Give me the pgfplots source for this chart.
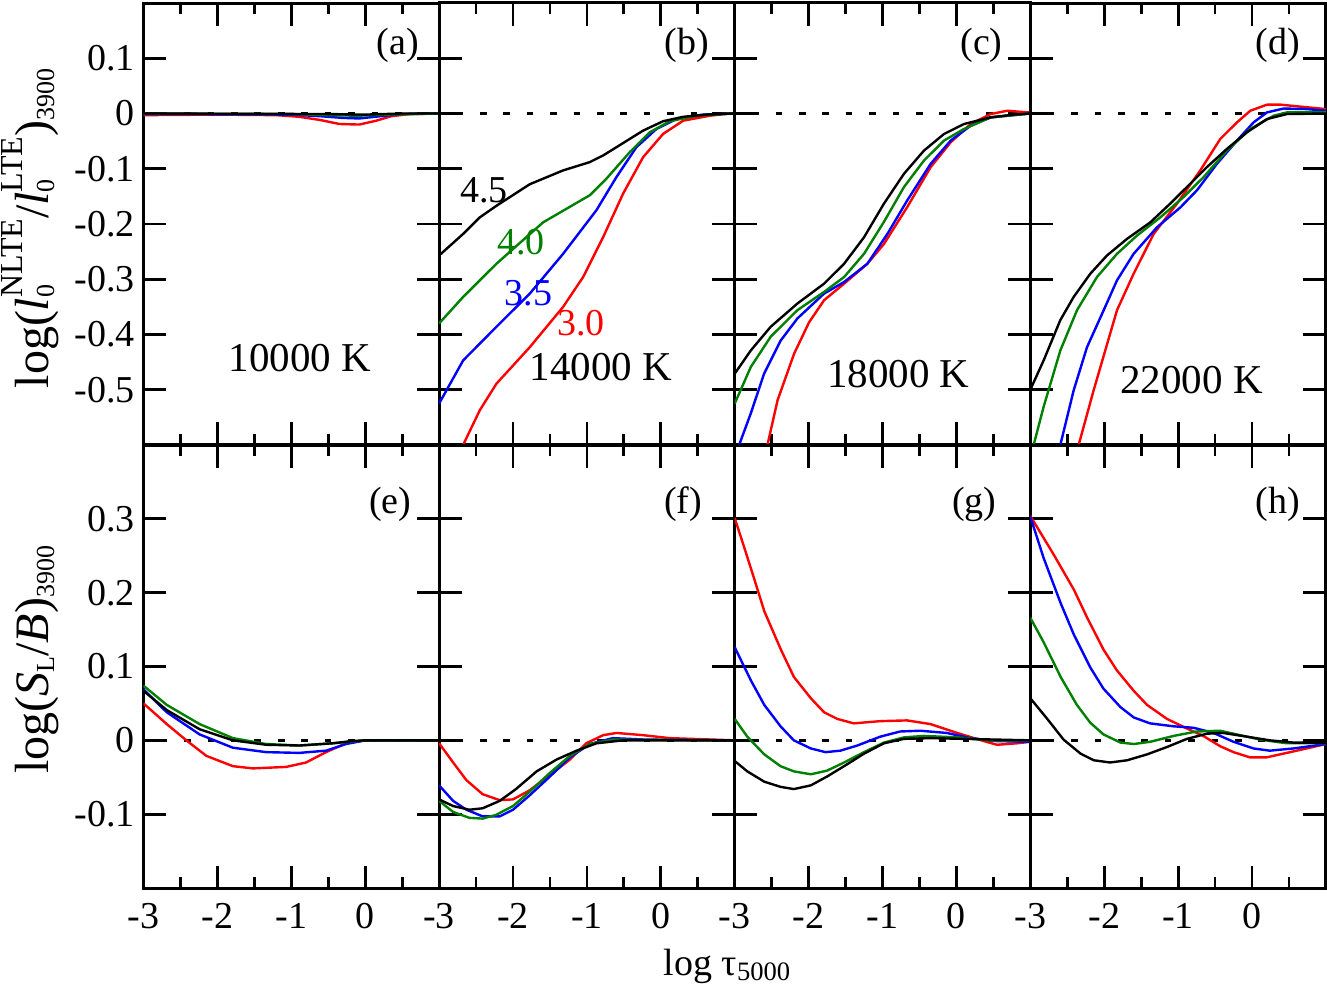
\documentclass[border=0pt]{standalone}
\usepackage{fontspec}
\setmainfont{Liberation Serif}
\usepackage{pgfplots}
\pgfplotsset{compat=1.18}

\definecolor{grn}{RGB}{0,128,0}
\newcommand\fs{\fontsize{19}{22}\selectfont}
\newcommand\fk{\fontsize{20.5}{24}\selectfont}
\newcommand\fl{\fontsize{24}{28}\selectfont}
\newcommand\sub[1]{\raisebox{-3pt}{\fontsize{13}{13}\selectfont #1}}
\newcommand\supsub[2]{\makebox[0pt][l]{\sub{#2}}\raisebox{13pt}{\fontsize{16}{16}\selectfont #1}}

\pgfplotsset{
  panel/.style={
    scale only axis, width=147.8pt, xmin=-3, xmax=1,
    anchor=south west,
    axis line style={line width=1.5pt},
    tick style={line width=1.4pt, black},
    tick align=inside, xtick pos=both, ytick pos=both,
    major tick length=11.25pt, minor tick length=5.5pt,
    xtick={-3,-2,-1,0}, minor xtick={-2.5,-1.5,-0.5,0.5},
    xticklabels={}, yticklabels={},
    ticklabel style={font=\fs, inner sep=0pt},
    yticklabel style={xshift=-4.25pt},
    xticklabel style={yshift=-7.5pt},
    every axis plot/.append style={line width=1.2pt, line join=round},
    ylabel style={font=\fl, at={(rel axis cs:-0.323,0.5)}, anchor=base},
  },
  toprow/.style={panel, height=221pt, ymin=-0.6, ymax=0.2,
    ytick={-0.5,-0.4,-0.3,-0.2,-0.1,0,0.1}},
  botrow/.style={panel, height=221.5pt, ymin=-0.2, ymax=0.4,
    ytick={-0.1,0,0.1,0.2,0.3}, xticklabels={-3,-2,-1,0}},
}
\newcommand\zeroline{\addplot[black, line width=1.3pt, dash pattern=on 3.3pt off 8.4pt, dash phase=3pt, forget plot] coordinates {(-3,0) (1,0)};}
\newcommand\plab[3]{\node[anchor=east, font=\fs] at (rel axis cs:#1,#2) {#3};}

\begin{document}
\begin{tikzpicture}
\path[use as bounding box] (-71.75pt,-49pt) rectangle (591.75pt,444pt);

% ---------------- top row ----------------
\begin{axis}[toprow, at={(0pt,221.5pt)},
  yticklabels={-0.5,-0.4,-0.3,-0.2,-0.1,0,0.1},
  ylabel={log(\textit{l}\supsub{NLTE}{0}/\textit{l}\supsub{LTE}{0})\sub{3900}},
  ylabel style={at={(rel axis cs:-0.323,0.49)}}]
\zeroline
\addplot[red] coordinates {(-3,-0.003)(-2,-0.002)(-1.2,-0.003)(-0.89,-0.006)(-0.6,-0.012)(-0.35,-0.019)(-0.08,-0.02)(0.15,-0.013)(0.35,-0.005)(0.6,-0.001)(1,0)};
\addplot[blue] coordinates {(-3,-0.001)(-1,-0.002)(-0.6,-0.005)(-0.3,-0.008)(-0.08,-0.009)(0.2,-0.005)(0.5,-0.001)(1,0)};
\addplot[grn] coordinates {(-3,0)(-1,-0.001)(-0.5,-0.003)(-0.1,-0.004)(0.3,-0.002)(1,0)};
\addplot[black] coordinates {(-3,0)(-0.5,-0.001)(0,-0.002)(0.5,0)(1,0)};
\plab{0.955}{0.905}{(a)}
\node[font=\fk] at (axis cs:-0.885,-0.443) {10000 K};
\end{axis}

\begin{axis}[toprow, at={(147.8pt,221.5pt)}]
\zeroline
\addplot[red] coordinates {(-2.8,-0.64)(-2.675,-0.60)(-2.449,-0.537)(-2.224,-0.489)(-1.773,-0.423)(-1.322,-0.350)(-1.051,-0.296)(-0.781,-0.224)(-0.51,-0.145)(-0.239,-0.079)(0.031,-0.037)(0.302,-0.013)(0.663,-0.004)(0.933,0)(1,0)};
\addplot[blue] coordinates {(-3,-0.525)(-2.675,-0.447)(-2.224,-0.386)(-1.773,-0.326)(-1.322,-0.254)(-0.871,-0.175)(-0.60,-0.115)(-0.33,-0.061)(-0.059,-0.028)(0.211,-0.010)(0.572,-0.002)(0.933,0)(1,0)};
\addplot[grn] coordinates {(-3,-0.38)(-2.675,-0.332)(-2.224,-0.272)(-1.998,-0.245)(-1.592,-0.197)(-1.232,-0.169)(-0.961,-0.148)(-0.736,-0.118)(-0.42,-0.070)(-0.149,-0.034)(0.121,-0.014)(0.482,-0.004)(0.933,0)(1,0)};
\addplot[black] coordinates {(-3,-0.257)(-2.675,-0.218)(-2.449,-0.188)(-2.224,-0.167)(-1.773,-0.128)(-1.322,-0.103)(-0.961,-0.088)(-0.781,-0.076)(-0.60,-0.061)(-0.42,-0.046)(-0.239,-0.031)(0.031,-0.014)(0.302,-0.006)(0.618,-0.002)(1,0)};
\plab{0.937}{0.905}{(b)}
\node[font=\fs, black] at (axis cs:-2.39,-0.139) {4.5};
\node[font=\fs, grn] at (axis cs:-1.89,-0.233) {4.0};
\node[font=\fs, blue] at (axis cs:-1.79,-0.325) {3.5};
\node[font=\fs, red] at (axis cs:-1.08,-0.380) {3.0};
\node[font=\fk] at (axis cs:-0.81,-0.459) {14000 K};
\end{axis}

\begin{axis}[toprow, at={(295.6pt,221.5pt)}]
\zeroline
\addplot[red] coordinates {(-2.6,-0.62)(-2.557,-0.6)(-2.42,-0.519)(-2.197,-0.435)(-1.994,-0.378)(-1.791,-0.338)(-1.52,-0.308)(-1.205,-0.272)(-0.98,-0.236)(-0.664,-0.169)(-0.348,-0.097)(-0.077,-0.052)(0.193,-0.019)(0.464,-0.001)(0.69,0.005)(0.96,0.002)(1,0.002)};
\addplot[blue] coordinates {(-3.0,-0.63)(-2.94,-0.6)(-2.783,-0.543)(-2.603,-0.471)(-2.378,-0.411)(-2.152,-0.371)(-1.791,-0.326)(-1.52,-0.305)(-1.205,-0.272)(-0.934,-0.218)(-0.664,-0.157)(-0.348,-0.091)(-0.077,-0.049)(0.193,-0.022)(0.464,-0.007)(1,0)};
\addplot[grn] coordinates {(-3,-0.525)(-2.783,-0.459)(-2.513,-0.404)(-2.152,-0.356)(-1.791,-0.323)(-1.52,-0.296)(-1.25,-0.254)(-0.98,-0.196)(-0.709,-0.133)(-0.438,-0.085)(-0.167,-0.049)(0.103,-0.028)(0.464,-0.007)(1,0)};
\addplot[black] coordinates {(-3,-0.471)(-2.783,-0.429)(-2.513,-0.386)(-2.152,-0.344)(-1.791,-0.308)(-1.52,-0.272)(-1.25,-0.224)(-0.98,-0.163)(-0.709,-0.109)(-0.438,-0.067)(-0.167,-0.037)(0.103,-0.019)(0.464,-0.007)(0.78,-0.002)(1,0)};
\plab{0.93}{0.905}{(c)}
\node[font=\fk] at (axis cs:-0.787,-0.471) {18000 K};
\end{axis}

\begin{axis}[toprow, at={(443.4pt,221.5pt)}]
\zeroline
\addplot[red] coordinates {(-2.4,-0.64)(-2.346,-0.6)(-2.143,-0.501)(-1.827,-0.356)(-1.602,-0.290)(-1.331,-0.218)(-1.015,-0.163)(-0.7,-0.103)(-0.429,-0.046)(-0.203,-0.016)(-0.023,0.005)(0.203,0.016)(0.383,0.016)(1,0.008)};
\addplot[blue] coordinates {(-2.7,-0.66)(-2.594,-0.6)(-2.413,-0.501)(-2.233,-0.423)(-2.007,-0.356)(-1.827,-0.302)(-1.602,-0.254)(-1.286,-0.206)(-0.97,-0.170)(-0.745,-0.139)(-0.474,-0.091)(-0.203,-0.049)(0.022,-0.016)(0.203,0.002)(0.428,0.009)(0.744,0.008)(1,0.005)};
\addplot[grn] coordinates {(-3,-0.64)(-2.955,-0.6)(-2.82,-0.531)(-2.594,-0.429)(-2.368,-0.356)(-2.098,-0.296)(-1.827,-0.254)(-1.557,-0.221)(-1.241,-0.188)(-0.925,-0.151)(-0.654,-0.115)(-0.339,-0.067)(-0.023,-0.028)(0.293,-0.004)(0.473,0.002)(1,0.002)};
\addplot[black] coordinates {(-3,-0.5)(-2.82,-0.447)(-2.594,-0.374)(-2.413,-0.332)(-2.188,-0.290)(-1.963,-0.257)(-1.692,-0.227)(-1.376,-0.197)(-1.106,-0.163)(-0.88,-0.133)(-0.61,-0.097)(-0.339,-0.064)(-0.068,-0.034)(0.203,-0.010)(0.473,-0.001)(1,0)};
\plab{0.936}{0.905}{(d)}
\node[font=\fk] at (axis cs:-0.817,-0.483) {22000 K};
\end{axis}

% ---------------- bottom row ----------------
\begin{axis}[botrow, at={(0pt,0pt)},
  yticklabels={-0.1,0,0.1,0.2,0.3},
  ylabel={log(\textit{S}\sub{L}/\textit{B})\sub{3900}},
  ylabel style={at={(rel axis cs:-0.323,0.515)}}]
\zeroline
\addplot[red] coordinates {(-3,0.050)(-2.685,0.022)(-2.42,0.0)(-2.15,-0.021)(-1.79,-0.035)(-1.52,-0.038)(-1.07,-0.036)(-0.80,-0.030)(-0.53,-0.016)(-0.26,-0.004)(0,0)(1,0)};
\addplot[blue] coordinates {(-3,0.069)(-2.685,0.038)(-2.24,0.008)(-1.79,-0.010)(-1.34,-0.016)(-0.89,-0.017)(-0.53,-0.014)(-0.26,-0.005)(0,0)(1,0)};
\addplot[grn] coordinates {(-3,0.074)(-2.685,0.048)(-2.24,0.022)(-1.79,0.003)(-1.34,-0.005)(-0.89,-0.007)(-0.44,-0.004)(0,0)(1,0)};
\addplot[black] coordinates {(-3,0.067)(-2.685,0.041)(-2.24,0.015)(-1.79,0.0)(-1.34,-0.006)(-0.89,-0.007)(-0.44,-0.004)(-0.18,-0.001)(0,0)(1,0)};
\plab{0.93}{0.867}{(e)}
\end{axis}

\begin{axis}[botrow, at={(147.8pt,0pt)}]
\zeroline
\addplot[red] coordinates {(-3,-0.004)(-2.81,-0.030)(-2.63,-0.054)(-2.41,-0.073)(-2.18,-0.081)(-2.0,-0.080)(-1.78,-0.068)(-1.5,-0.047)(-1.23,-0.026)(-1.01,-0.004)(-0.78,0.007)(-0.60,0.010)(-0.24,0.007)(0.12,0.003)(1,0)};
\addplot[blue] coordinates {(-3,-0.061)(-2.81,-0.082)(-2.63,-0.094)(-2.41,-0.103)(-2.18,-0.103)(-2.0,-0.094)(-1.78,-0.075)(-1.5,-0.049)(-1.23,-0.023)(-0.96,-0.005)(-0.65,0.003)(-0.2,0.001)(1,0)};
\addplot[grn] coordinates {(-3,-0.082)(-2.81,-0.097)(-2.59,-0.105)(-2.41,-0.106)(-2.23,-0.101)(-2.0,-0.089)(-1.78,-0.070)(-1.5,-0.044)(-1.23,-0.021)(-0.96,-0.005)(-0.65,0.001)(1,0)};
\addplot[black] coordinates {(-3,-0.080)(-2.81,-0.089)(-2.59,-0.094)(-2.41,-0.092)(-2.18,-0.082)(-1.96,-0.066)(-1.68,-0.042)(-1.41,-0.026)(-1.14,-0.014)(-0.87,-0.004)(-0.51,0)(1,0)};
\plab{0.914}{0.867}{(f)}
\end{axis}

\begin{axis}[botrow, at={(295.6pt,0pt)}]
\zeroline
\addplot[red] coordinates {(-3,0.301)(-2.87,0.261)(-2.74,0.220)(-2.60,0.175)(-2.38,0.124)(-2.20,0.086)(-1.97,0.057)(-1.79,0.038)(-1.61,0.029)(-1.39,0.023)(-1.03,0.026)(-0.67,0.027)(-0.35,0.022)(0.01,0.010)(0.37,-0.001)(0.55,-0.006)(0.82,-0.004)(1,-0.002)};
\addplot[blue] coordinates {(-3,0.126)(-2.78,0.081)(-2.60,0.048)(-2.38,0.019)(-2.20,0.0)(-1.97,-0.011)(-1.77,-0.016)(-1.57,-0.014)(-1.34,-0.007)(-1.03,0.005)(-0.76,0.012)(-0.49,0.013)(-0.13,0.010)(0.19,0.003)(0.55,-0.001)(1,-0.002)};
\addplot[grn] coordinates {(-3,0.029)(-2.83,0.005)(-2.60,-0.019)(-2.38,-0.035)(-2.20,-0.042)(-1.97,-0.046)(-1.75,-0.041)(-1.52,-0.030)(-1.25,-0.016)(-0.98,-0.003)(-0.71,0.004)(-0.44,0.006)(0.01,0.004)(0.46,0.0)(1,0)};
\addplot[black] coordinates {(-3,-0.028)(-2.83,-0.042)(-2.60,-0.056)(-2.38,-0.063)(-2.20,-0.066)(-1.97,-0.061)(-1.75,-0.049)(-1.52,-0.035)(-1.25,-0.018)(-0.98,-0.004)(-0.71,0.002)(-0.35,0.003)(0.1,0.002)(1,0)};
\plab{0.91}{0.867}{(g)}
\end{axis}

\begin{axis}[botrow, at={(443.4pt,0pt)}]
\zeroline
\addplot[red] coordinates {(-3,0.304)(-2.68,0.251)(-2.41,0.204)(-2.23,0.166)(-2.01,0.123)(-1.83,0.095)(-1.60,0.067)(-1.42,0.048)(-1.15,0.029)(-0.88,0.016)(-0.66,0.006)(-0.43,-0.008)(-0.25,-0.016)(-0.03,-0.023)(0.2,-0.023)(0.56,-0.015)(1,-0.005)};
\addplot[blue] coordinates {(-3,0.303)(-2.82,0.247)(-2.59,0.186)(-2.41,0.143)(-2.19,0.099)(-2.01,0.070)(-1.78,0.045)(-1.60,0.031)(-1.38,0.023)(-1.06,0.019)(-0.79,0.017)(-0.52,0.010)(-0.25,-0.002)(0.02,-0.011)(0.24,-0.014)(0.56,-0.011)(1,-0.005)};
\addplot[grn] coordinates {(-3,0.166)(-2.82,0.133)(-2.59,0.086)(-2.37,0.048)(-2.19,0.024)(-2.01,0.008)(-1.78,-0.003)(-1.60,-0.005)(-1.38,-0.002)(-1.06,0.006)(-0.75,0.012)(-0.43,0.013)(-0.16,0.007)(0.11,0.001)(0.47,-0.004)(1,-0.004)};
\addplot[black] coordinates {(-3,0.057)(-2.77,0.029)(-2.55,0.001)(-2.32,-0.018)(-2.14,-0.027)(-1.92,-0.030)(-1.69,-0.027)(-1.42,-0.019)(-1.15,-0.009)(-0.88,0.002)(-0.61,0.009)(-0.39,0.010)(-0.07,0.005)(0.24,0.0)(0.56,-0.003)(1,-0.003)};
\plab{0.936}{0.867}{(h)}
\end{axis}

\node[anchor=base, font=\fs] at (291.75pt,-43.5pt) {log τ\raisebox{-2.5pt}{\fontsize{13.3}{14}\selectfont 5000}};
\end{tikzpicture}
\end{document}
